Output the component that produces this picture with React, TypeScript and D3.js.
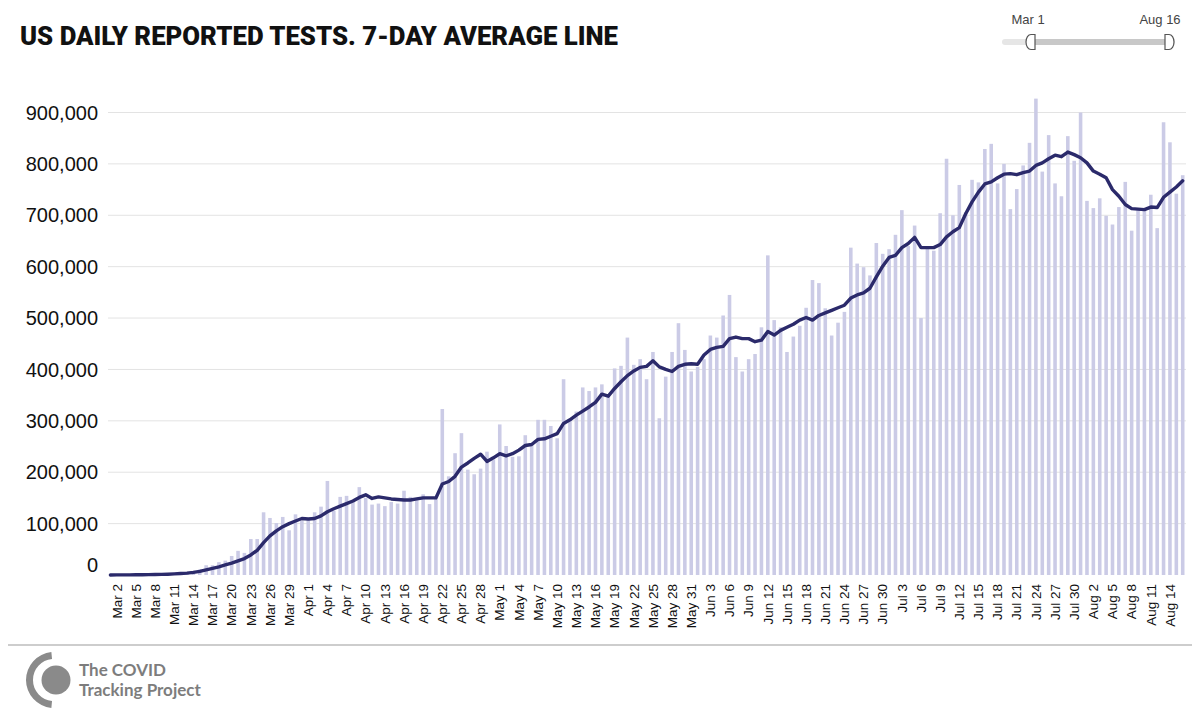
import React from "react";
import * as d3 from "d3";

const dailyTests: number[] = [
  100, 200, 300, 500, 700, 900, 1300, 1700, 2200, 2800,
  3800, 4800, 6000, 8000, 11000, 19000, 19000, 25000, 28000, 37000,
  47000, 43000, 70000, 70000, 122000, 111000, 101000, 113000, 87000, 118000,
  105000, 110000, 122000, 133000, 183000, 125000, 152000, 154000, 143000, 171000,
  150000, 137000, 139000, 134000, 142000, 139000, 164000, 152000, 146000, 157000,
  138000, 148000, 323000, 192000, 237000, 276000, 205000, 196000, 207000, 240000,
  225000, 293000, 251000, 230000, 231000, 272000, 253000, 302000, 302000, 290000,
  266000, 381000, 302000, 318000, 365000, 358000, 365000, 371000, 347000, 402000,
  407000, 462000, 409000, 420000, 381000, 434000, 305000, 386000, 434000, 490000,
  438000, 396000, 405000, 420000, 466000, 462000, 505000, 545000, 424000, 396000,
  420000, 430000, 482000, 622000, 496000, 482000, 434000, 464000, 485000, 520000,
  574000, 568000, 519000, 466000, 491000, 512000, 637000, 606000, 599000, 583000,
  646000, 625000, 634000, 662000, 710000, 640000, 680000, 500000, 637000, 631000,
  704000, 810000, 700000, 759000, 706000, 769000, 764000, 829000, 839000, 762000,
  800000, 712000, 751000, 797000, 841000, 927000, 785000, 856000, 762000, 737000,
  854000, 806000, 900000, 728000, 714000, 733000, 699000, 682000, 716000, 765000,
  670000, 710000, 713000, 740000, 675000, 881000, 842000, 742000, 778000,
];

const sevenDayAvg: number[] = [
  100, 150, 200, 300, 400, 500, 650, 900, 1200, 1600,
  2100, 2800, 3700, 5000, 7000, 10000, 13000, 16000, 19500, 23000,
  27500, 32000, 39000, 48000, 63000, 76000, 86000, 94000, 100000, 105000,
  110000, 109000, 110000, 115000, 123000, 129000, 134000, 139000, 144000, 151000,
  156000, 149000, 152000, 150000, 148000, 147000, 146000, 146000, 148000, 150000,
  150000, 150000, 177000, 182000, 192000, 210000, 218000, 227000, 235000, 221000,
  228000, 236000, 232000, 236000, 243000, 252000, 254000, 264000, 265000, 270000,
  275000, 295000, 302000, 311000, 319000, 327000, 336000, 352000, 348000, 363000,
  376000, 388000, 397000, 404000, 406000, 417000, 405000, 400000, 396000, 406000,
  410000, 411000, 410000, 428000, 439000, 443000, 445000, 460000, 463000, 460000,
  460000, 454000, 457000, 474000, 467000, 476000, 482000, 488000, 496000, 501000,
  496000, 505000, 510000, 515000, 520000, 525000, 539000, 545000, 549000, 558000,
  580000, 601000, 618000, 622000, 637000, 645000, 657000, 637000, 637000, 637000,
  643000, 658000, 668000, 676000, 703000, 726000, 745000, 761000, 765000, 773000,
  780000, 781000, 779000, 783000, 786000, 797000, 802000, 810000, 817000, 814000,
  823000, 818000, 812000, 802000, 786000, 780000, 773000, 750000, 737000, 721000,
  713000, 712000, 711000, 716000, 715000, 735000, 745000, 755000, 767000,
];

const tickLabels: string[] = [
  "Mar 2", "Mar 5", "Mar 8", "Mar 11", "Mar 14", "Mar 17", "Mar 20", "Mar 23", "Mar 26", "Mar 29",
  "Apr 1", "Apr 4", "Apr 7", "Apr 10", "Apr 13", "Apr 16", "Apr 19", "Apr 22", "Apr 25", "Apr 28",
  "May 1", "May 4", "May 7", "May 10", "May 13", "May 16", "May 19", "May 22", "May 25", "May 28", "May 31",
  "Jun 3", "Jun 6", "Jun 9", "Jun 12", "Jun 15", "Jun 18", "Jun 21", "Jun 24", "Jun 27", "Jun 30",
  "Jul 3", "Jul 6", "Jul 9", "Jul 12", "Jul 15", "Jul 18", "Jul 21", "Jul 24", "Jul 27", "Jul 30",
  "Aug 2", "Aug 5", "Aug 8", "Aug 11", "Aug 14",
];

const yTicks: number[] = [0, 100000, 200000, 300000, 400000, 500000, 600000, 700000, 800000, 900000];

const fmtDay = d3.timeFormat("%b %-d");
const categories: string[] = d3
  .timeDay.range(new Date(2020, 2, 1), new Date(2020, 7, 17))
  .map((d) => fmtDay(d));

const W = 1200;
const H = 710;

export default function App() {
  const x = d3
    .scaleBand<string>()
    .domain(categories)
    .range([107.2, 1185.9])
    .paddingInner(0.44)
    .paddingOuter(0.22);
  const y = d3.scaleLinear().domain([0, 900000]).range([575, 112.5]);
  const cx = (c: string) => (x(c) as number) + x.bandwidth() / 2;

  const line = d3
    .line<number>()
    .x((_, i) => cx(categories[i]))
    .y((v) => y(v))
    .curve(d3.curveLinear);

  const fmt = d3.format(",");
  const font = "'Liberation Sans', Arial, Helvetica, sans-serif";

  return (
    <svg
      width={W}
      height={H}
      style={{ position: "absolute", left: 0, top: 0, background: "#fff" }}
      fontFamily={font}
    >
      <rect x={0} y={0} width={W} height={H} fill="#fff" />
      {/* Title */}
      <text
        x={20}
        y={45}
        fontFamily="Roboto, 'Liberation Sans', sans-serif"
        fontWeight={900}
        fontSize={25}
        fill="#111"
        textLength={598}
        lengthAdjust="spacingAndGlyphs"
      >
        US DAILY REPORTED TESTS. 7-DAY AVERAGE LINE
      </text>

      {/* Range slider */}
      <g>
        <text x={1028} y={24} textAnchor="middle" fontSize={13} fill="#444">
          {categories[0]}
        </text>
        <text x={1160} y={24} textAnchor="middle" fontSize={13} fill="#444">
          {categories[categories.length - 1]}
        </text>
        <line x1={1005} x2={1172} y1={42} y2={42} stroke="#e6e6e6" strokeWidth={6} strokeLinecap="round" />
        <line x1={1030} x2={1168} y1={42} y2={42} stroke="#c8c8c8" strokeWidth={6} />
        <path
          d="M1035,34.5 L1031,34.5 A5,7.5 0 0 0 1031,49.5 L1035,49.5 Z"
          fill="#fff"
          stroke="#555"
          strokeWidth={1.2}
        />
        <path
          d="M1165,34.5 L1169,34.5 A5,7.5 0 0 1 1169,49.5 L1165,49.5 Z"
          fill="#fff"
          stroke="#555"
          strokeWidth={1.2}
        />
      </g>

      {/* Gridlines */}
      {yTicks
        .filter((t) => t > 0)
        .map((t) => (
          <line key={t} x1={108} x2={1186} y1={y(t)} y2={y(t)} stroke="#e3e3e3" strokeWidth={1} />
        ))}

      {/* Y labels */}
      {yTicks.map((t) => (
        <text
          key={t}
          x={98}
          y={t === 0 ? y(t) - 10 : y(t)}
          dy="0.36em"
          textAnchor="end"
          fontSize={20}
          fill="#111"
        >
          {fmt(t)}
        </text>
      ))}

      {/* Bars */}
      {dailyTests.map((v, i) => (
        <rect
          key={i}
          x={x(categories[i])}
          y={y(v)}
          width={x.bandwidth()}
          height={y(0) - y(v)}
          fill="#cbcbe6"
        />
      ))}

      {/* Average line */}
      <path
        d={line(sevenDayAvg) || ""}
        fill="none"
        stroke="#2b2a6b"
        strokeWidth={3.4}
        strokeLinejoin="round"
        strokeLinecap="round"
      />

      {/* X labels */}
      {tickLabels.map((l) => (
        <text
          key={l}
          transform={`translate(${cx(l)},584) rotate(-90)`}
          dy="0.35em"
          textAnchor="end"
          fontSize={13.5}
          fill="#111"
        >
          {l}
        </text>
      ))}

      {/* Footer */}
      <line x1={8} x2={1192} y1={645} y2={645} stroke="#bdbdbd" strokeWidth={1.5} />
      <path
        d={d3.arc()({
          innerRadius: 21,
          outerRadius: 28,
          startAngle: Math.PI * 1.03,
          endAngle: Math.PI * 1.97,
        }) || ""}
        transform="translate(54,680)"
        fill="#8a8a8a"
      />
      <circle cx={56} cy={680} r={14.5} fill="#8a8a8a" />
      <text x={79} y={676} fontFamily="Lato, 'Open Sans', sans-serif" fontWeight={700} fontSize={17} fill="#7d7d7d">
        The COVID
      </text>
      <text x={79} y={696} fontFamily="Lato, 'Open Sans', sans-serif" fontWeight={700} fontSize={17} fill="#7d7d7d">
        Tracking Project
      </text>
    </svg>
  );
}
